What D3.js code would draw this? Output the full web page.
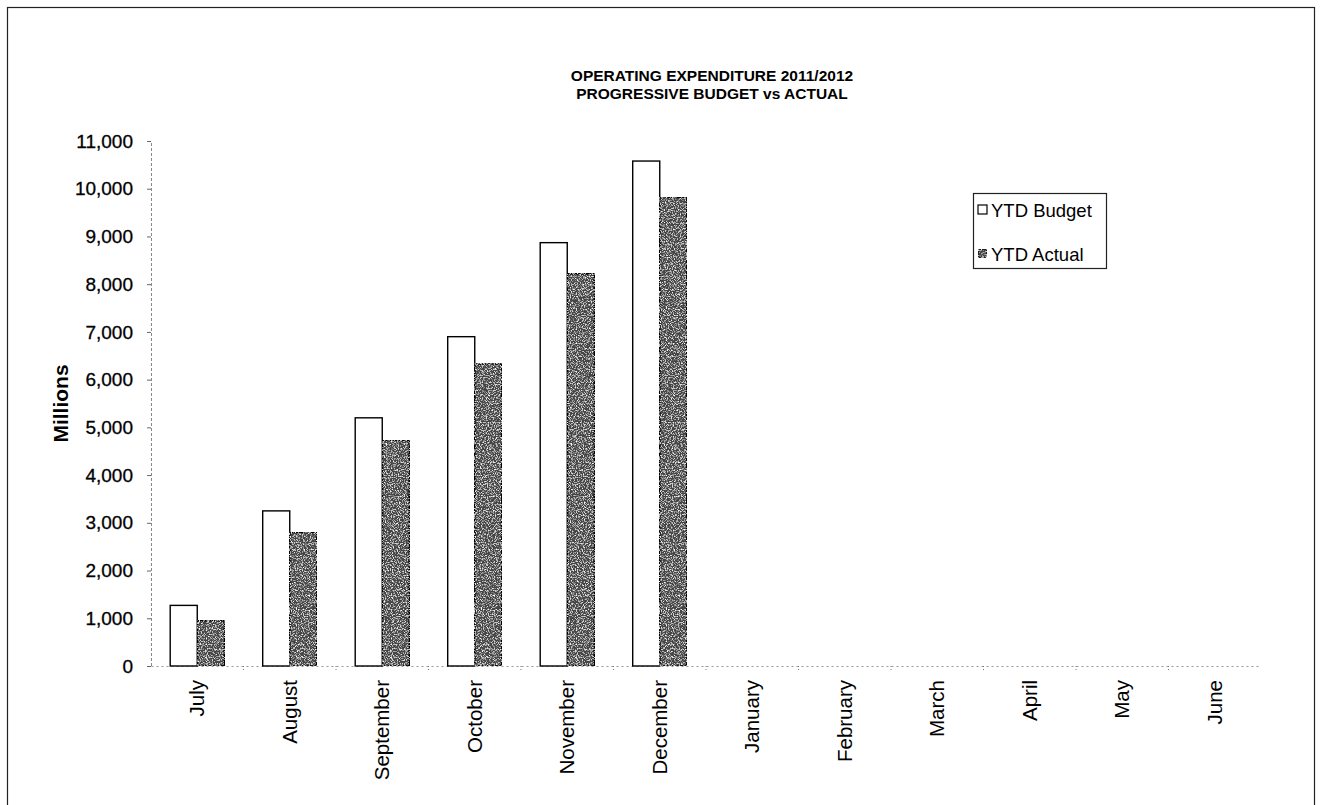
<!DOCTYPE html>
<html>
<head>
<meta charset="utf-8">
<script src="https://cdn.jsdelivr.net/npm/d3@7"></script>
<style>
  html, body { margin: 0; padding: 0; background: #fff; }
  svg { display: block; font-family: "Liberation Sans", Arial, sans-serif; }
</style>
</head>
<body>
<svg id="chart" width="1321" height="805"></svg>
<script>
// Months of the 2011/2012 financial year
const months = ["July", "August", "September", "October", "November", "December",
                "January", "February", "March", "April", "May", "June"];
// Year-to-date budget and actual expenditure (millions); later months not yet reported
const ytdBudget = [1270, 3250, 5200, 6900, 8870, 10580, null, null, null, null, null, null];
const ytdActual = [950, 2800, 4730, 6330, 8220, 9820, null, null, null, null, null, null];
const seriesNames = ["YTD Budget", "YTD Actual"];
const yTicks = [0, 1000, 2000, 3000, 4000, 5000, 6000, 7000, 8000, 9000, 10000, 11000];
const titleLines = ["OPERATING EXPENDITURE 2011/2012", "PROGRESSIVE BUDGET vs ACTUAL"];
const yTitle = "Millions";

const svg = d3.select("#chart");

// grainy fill used for the actual-spend bars
const defs = svg.append("defs");
const grain = defs.append("filter").attr("id", "grain")
  .attr("x", 0).attr("y", 0).attr("width", "100%").attr("height", "100%");
grain.append("feTurbulence").attr("type", "fractalNoise")
  .attr("baseFrequency", 0.85).attr("numOctaves", 2).attr("seed", 7).attr("result", "noise");
grain.append("feColorMatrix").attr("in", "noise").attr("type", "matrix")
  .attr("values", "0 0 0 0 1  0 0 0 0 1  0 0 0 0 1  3.2 0 0 0 -1.55")
  .attr("result", "specks");
grain.append("feComposite").attr("in", "specks").attr("in2", "SourceGraphic")
  .attr("operator", "in").attr("result", "clipped");
const merge = grain.append("feMerge");
merge.append("feMergeNode").attr("in", "SourceGraphic");
merge.append("feMergeNode").attr("in", "clipped");

// outer frame
svg.append("rect")
  .attr("x", 7.5).attr("y", 7.5).attr("width", 1307).attr("height", 820)
  .attr("fill", "none").attr("stroke", "#222").attr("stroke-width", 1.2);

const plot = { left: 151, right: 1261, top: 141, bottom: 666 };

const x0 = d3.scaleBand().domain(months).range([plot.left, plot.right]).paddingInner(0).paddingOuter(0);
const x1 = d3.scaleBand().domain(seriesNames).range([0, x0.bandwidth()]).paddingInner(0).paddingOuter(0.71);
const y = d3.scaleLinear().domain([0, 11000]).range([plot.bottom, plot.top]);

// title
svg.append("g").selectAll("text").data(titleLines).join("text")
  .attr("x", 712).attr("y", (d, i) => 81 + i * 18)
  .attr("text-anchor", "middle")
  .attr("font-size", 15.5).attr("font-weight", "bold")
  .attr("fill", "#000")
  .text(d => d);

// y axis
const yAxis = svg.append("g")
  .attr("transform", `translate(${plot.left},0)`)
  .call(d3.axisLeft(y).tickValues(yTicks).tickSize(4).tickPadding(14)
    .tickFormat(d3.format(",")));
yAxis.select(".domain").attr("stroke", "#888").attr("stroke-dasharray", "3,2");
yAxis.selectAll(".tick line").attr("stroke", "#666");
yAxis.selectAll(".tick text")
  .attr("font-size", 19).attr("fill", "#000")
  .attr("stroke", "#000").attr("stroke-width", 0.3)
  .attr("font-family", "Liberation Sans, Arial, sans-serif");

svg.append("text")
  .attr("transform", `translate(68,${(plot.top + plot.bottom) / 2}) rotate(-90)`)
  .attr("text-anchor", "middle")
  .attr("font-size", 21).attr("font-weight", "bold")
  .text(yTitle);

// x axis
const xAxis = svg.append("g")
  .attr("transform", `translate(0,${plot.bottom})`)
  .call(d3.axisBottom(x0).tickSize(0).tickPadding(0));
xAxis.select(".domain").attr("stroke", "#999").attr("stroke-dasharray", "2,3");
xAxis.selectAll(".tick text")
  .attr("font-size", 20.5).attr("fill", "#000")
  .attr("font-family", "Liberation Sans, Arial, sans-serif")
  .attr("text-anchor", "end")
  .attr("transform", "translate(0,14) rotate(-90)")
  .attr("dx", 0).attr("dy", "0.35em").attr("y", 0).attr("x", 0);
// boundary ticks between categories
svg.append("g").selectAll("line").data(months.slice(1)).join("line")
  .attr("x1", d => x0(d)).attr("x2", d => x0(d))
  .attr("y1", plot.bottom).attr("y2", plot.bottom + 5)
  .attr("stroke", "#777").attr("stroke-dasharray", "1,2");

// bars
const rows = months.map((m, i) => ({ month: m, values: [
  { key: seriesNames[0], value: ytdBudget[i] },
  { key: seriesNames[1], value: ytdActual[i] }
]}));

const groups = svg.append("g").selectAll("g").data(rows).join("g")
  .attr("transform", d => `translate(${x0(d.month)},0)`);

groups.selectAll("rect")
  .data(d => d.values.filter(v => v.value != null))
  .join("rect")
  .attr("x", d => x1(d.key))
  .attr("y", d => y(d.value))
  .attr("width", x1.bandwidth())
  .attr("height", d => y(0) - y(d.value))
  .attr("fill", d => d.key === seriesNames[0] ? "#ffffff" : "#444444")
  .attr("filter", d => d.key === seriesNames[0] ? null : "url(#grain)")
  .attr("stroke", "#000")
  .attr("stroke-width", 1.4);

// legend
const legend = svg.append("g");
legend.append("rect")
  .attr("x", 973.5).attr("y", 193.5).attr("width", 133).attr("height", 75)
  .attr("fill", "#fff").attr("stroke", "#222").attr("stroke-width", 1.2);
const items = legend.selectAll("g").data(seriesNames).join("g")
  .attr("transform", (d, i) => `translate(978,${210 + i * 44})`);
items.append("rect")
  .attr("x", 0).attr("y", -5).attr("width", 9).attr("height", 9)
  .attr("fill", (d, i) => i === 0 ? "#fff" : "#444444")
  .attr("filter", (d, i) => i === 0 ? null : "url(#grain)")
  .attr("stroke", "#000").attr("stroke-width", 1.2);
items.append("text")
  .attr("x", 13).attr("y", 0).attr("dy", "0.36em")
  .attr("font-size", 18.5).attr("fill", "#000")
  .text(d => d);
</script>
</body>
</html>
